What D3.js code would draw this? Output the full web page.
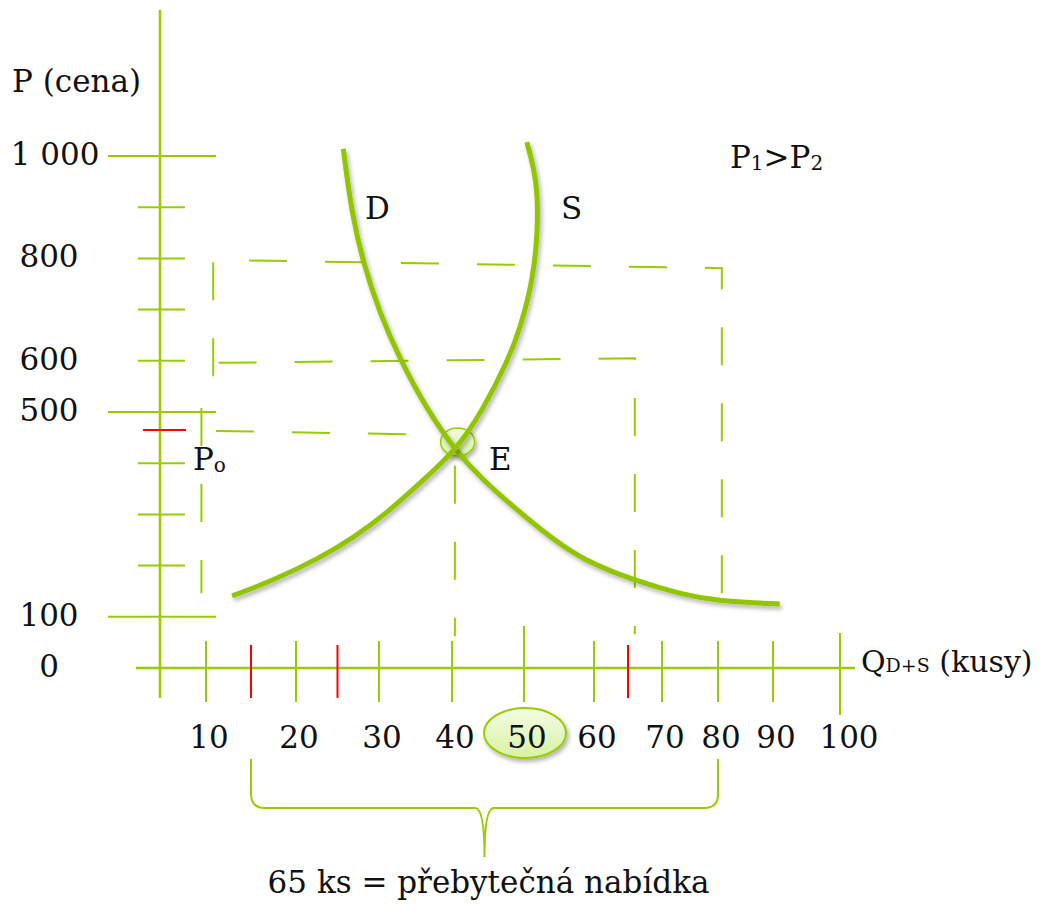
<!DOCTYPE html>
<html>
<head>
<meta charset="utf-8">
<script src="https://cdn.jsdelivr.net/npm/d3@7"></script>
<style>
  html, body { margin: 0; padding: 0; background: #fff; }
  svg text { font-family: "DejaVu Serif", serif; fill: #111; }
</style>
</head>
<body>
<div id="chart"></div>
<script>
// quantity (Q) ticks and price (P) ticks
var xTicks = [10, 20, 30, 40, 50, 60, 70, 80, 90, 100];
var xRedTicks = [15, 25, 65];
var yMajorTicks = [1000, 500, 100];
var yMinorTicks = [900, 800, 700, 600, 400, 300, 200];
var yRedTicks = [465];
var yLabels = [1000, 800, 600, 500, 100, 0];

// demand curve D (q, p)
var demandQ = [25.7, 26.7, 28.1, 30.1, 32.9, 36.6, 40.5, 44.3, 49.0, 53.7, 58.4, 65.7, 73.8, 79.8, 91.0];
var demandP = [1014, 889, 791, 693, 602, 504, 424, 367, 309, 256, 211, 172, 143, 131, 125];
// supply curve S (q, p)
var supplyQ = [12.9, 17.1, 22.9, 26.9, 31.1, 35.6, 40.5, 44.3, 47.8, 49.4, 51.3, 52.0, 51.9, 50.4];
var supplyP = [141, 168, 215, 254, 303, 361, 424, 504, 602, 660, 758, 855, 953, 1027];

// equilibrium E and price levels
var equilibrium = [40.5, 424];
// dashed guide lines (q, p)
var guideP1 = [[10.8, 570], [10.8, 797], [80.7, 781], [80.7, 133]];
var guideP2 = [[11.4, 596], [66, 605], [66, 66]];
var guideP0Left = [[9.0, 508], [9.0, 146]];
var guideP0 = [[11.1, 463], [40.3, 455]];
var guideE = [[40.4, 395], [40.4, 62]];
// surplus bracket
var surplusRange = [15, 80];
var highlightTick = 50;

var width = 1041, height = 905;
var green = "#99cc00", curveGreen = "#93c400";
// the hand-drawn Q axis is not evenly spaced, so calibrate it stop by stop
var xStops = [160, 206, 296, 379, 452, 524, 594, 662, 718, 773, 840];

var x = d3.scaleLinear()
    .domain([0].concat(xTicks))
    .range(xStops);
var y = d3.scaleLinear()
    .domain([0, 1000])
    .range([668, 156]);

var svg = d3.select("#chart").append("svg")
    .attr("width", width)
    .attr("height", height);

var defs = svg.append("defs");
var shadow = defs.append("filter").attr("id", "shadow")
    .attr("x", "-20%").attr("y", "-20%").attr("width", "140%").attr("height", "140%");
shadow.append("feDropShadow")
    .attr("dx", 2).attr("dy", 3).attr("stdDeviation", 2)
    .attr("flood-color", "#000").attr("flood-opacity", 0.3);
var grad = defs.append("linearGradient").attr("id", "bubble")
    .attr("x1", 0).attr("y1", 0).attr("x2", 0).attr("y2", 1);
grad.append("stop").attr("offset", "0%").attr("stop-color", "#f4fce4");
grad.append("stop").attr("offset", "100%").attr("stop-color", "#d8f2a4");

var line = d3.line()
    .x(function (d) { return x(d[0]); })
    .y(function (d) { return y(d[1]); });
var smooth = d3.line()
    .x(function (d) { return x(d[0]); })
    .y(function (d) { return y(d[1]); })
    .curve(d3.curveBasis);

//Axes
var axisX = x(0), axisY = y(0);
svg.append("line")
    .attr("x1", axisX).attr("x2", axisX)
    .attr("y1", 10).attr("y2", 698)
    .attr("stroke", green).attr("stroke-width", 2.5);
svg.append("line")
    .attr("x1", 136).attr("x2", 855)
    .attr("y1", axisY).attr("y2", axisY)
    .attr("stroke", green).attr("stroke-width", 2.5);

//Y ticks
svg.selectAll(".ymajor").data(yMajorTicks).enter().append("line")
    .attr("x1", axisX - 52).attr("x2", axisX + 56)
    .attr("y1", function (d) { return y(d); })
    .attr("y2", function (d) { return y(d); })
    .attr("stroke", green).attr("stroke-width", 2);
svg.selectAll(".yminor").data(yMinorTicks).enter().append("line")
    .attr("x1", axisX - 22).attr("x2", axisX + 25)
    .attr("y1", function (d) { return y(d); })
    .attr("y2", function (d) { return y(d); })
    .attr("stroke", green).attr("stroke-width", 2);
svg.selectAll(".yred").data(yRedTicks).enter().append("line")
    .attr("x1", axisX - 17).attr("x2", axisX + 26)
    .attr("y1", function (d) { return y(d); })
    .attr("y2", function (d) { return y(d); })
    .attr("stroke", "#ff0000").attr("stroke-width", 2);

svg.selectAll(".ylabel").data(yLabels).enter().append("text")
    .attr("x", function (d) { return d >= 1000 ? 55 : 49; })
    .attr("y", function (d) { return y(d) + 9; })
    .attr("text-anchor", "middle")
    .style("font-size", "31px")
    .text(function (d) { return d >= 1000 ? d3.format(",")(d).replace(",", " ") : d; });

//X ticks
svg.selectAll(".xtick").data(xTicks).enter().append("line")
    .attr("x1", function (d) { return x(d); })
    .attr("x2", function (d) { return x(d); })
    .attr("y1", function (d) { return axisY - (d === 50 ? 42 : d === 100 ? 35 : 27); })
    .attr("y2", function (d) { return axisY + (d === 100 ? 47 : 34); })
    .attr("stroke", green).attr("stroke-width", 2);
svg.selectAll(".xred").data(xRedTicks).enter().append("line")
    .attr("x1", function (d) { return x(d); })
    .attr("x2", function (d) { return x(d); })
    .attr("y1", axisY - 23).attr("y2", axisY + 30)
    .attr("stroke", "#ff0000").attr("stroke-width", 2);

//Highlight bubble behind the 50 label
svg.append("ellipse")
    .attr("cx", x(highlightTick) + 1).attr("cy", 733)
    .attr("rx", 41).attr("ry", 25)
    .attr("fill", "url(#bubble)")
    .attr("stroke", green).attr("stroke-width", 2)
    .attr("filter", "url(#shadow)");

svg.selectAll(".xlabel").data(xTicks).enter().append("text")
    .attr("x", function (d) { return x(d) + (d === 100 ? 9 : 3); })
    .attr("y", 748)
    .attr("text-anchor", "middle")
    .style("font-size", "31px")
    .text(function (d) { return d; });

//Dashed guide lines
[guideP1, guideP2, guideP0Left, guideP0, guideE].forEach(function (g) {
    svg.append("path")
        .attr("d", line(g))
        .attr("fill", "none")
        .attr("stroke", green)
        .attr("stroke-width", 2)
        .attr("stroke-dasharray", "38 38");
});

//Equilibrium bubble
svg.append("ellipse")
    .attr("cx", x(equilibrium[0]) + 2).attr("cy", y(equilibrium[1]) - 9)
    .attr("rx", 17).attr("ry", 14)
    .attr("fill", "url(#bubble)")
    .attr("stroke", green).attr("stroke-width", 1.5)
    .attr("filter", "url(#shadow)");

//Demand and supply curves
var demand = demandQ.map(function (q, i) { return [q, demandP[i]]; });
var supply = supplyQ.map(function (q, i) { return [q, supplyP[i]]; });
[demand, supply].forEach(function (c) {
    svg.append("path")
        .attr("d", smooth(c))
        .attr("fill", "none")
        .attr("stroke", curveGreen)
        .attr("stroke-width", 5)
        .attr("filter", "url(#shadow)");
});

//Labels
function label(txt, lx, ly, size) {
    return svg.append("text").attr("x", lx).attr("y", ly)
        .style("font-size", (size || 31) + "px").text(txt);
}
label("P (cena)", 12, 92);
label("D", 365, 219);
label("S", 561, 219);
label("E", 489, 470);

var p0 = label("P", 193, 470);
p0.append("tspan").attr("dy", 2).style("font-size", "20px").text("o");

var pp = svg.append("text").attr("x", 730).attr("y", 168).style("font-size", "31px");
pp.append("tspan").text("P");
pp.append("tspan").attr("dy", 2).style("font-size", "20px").text("1");
pp.append("tspan").attr("dy", -2).text(">P");
pp.append("tspan").attr("dy", 2).style("font-size", "20px").text("2");

var qs = svg.append("text").attr("x", 861).attr("y", 672).style("font-size", "30px");
qs.append("tspan").text("Q");
qs.append("tspan").style("font-size", "19px").text("D+S");
qs.append("tspan").text(" (kusy)");

//Surplus bracket
var bx0 = x(surplusRange[0]), bx1 = x(surplusRange[1]), bm = (bx0 + bx1) / 2;
var bTop = 759, bMid = 808, bTip = 857;
svg.append("path")
    .attr("d", "M" + bx0 + "," + bTop + " L" + bx0 + "," + (bMid - 14) +
        " Q" + bx0 + "," + bMid + " " + (bx0 + 14) + "," + bMid +
        " L" + (bm - 9) + "," + bMid +
        " Q" + bm + "," + (bMid + 1) + " " + bm + "," + bTip +
        " Q" + bm + "," + (bMid + 1) + " " + (bm + 9) + "," + bMid +
        " L" + (bx1 - 14) + "," + bMid +
        " Q" + bx1 + "," + bMid + " " + bx1 + "," + (bMid - 14) +
        " L" + bx1 + "," + bTop)
    .attr("fill", "none")
    .attr("stroke", green)
    .attr("stroke-width", 2);

svg.append("text")
    .attr("x", bm + 4).attr("y", 893)
    .attr("text-anchor", "middle")
    .style("font-size", "31px")
    .text((surplusRange[1] - surplusRange[0]) + " ks = přebytečná nabídka");
</script>
</body>
</html>
